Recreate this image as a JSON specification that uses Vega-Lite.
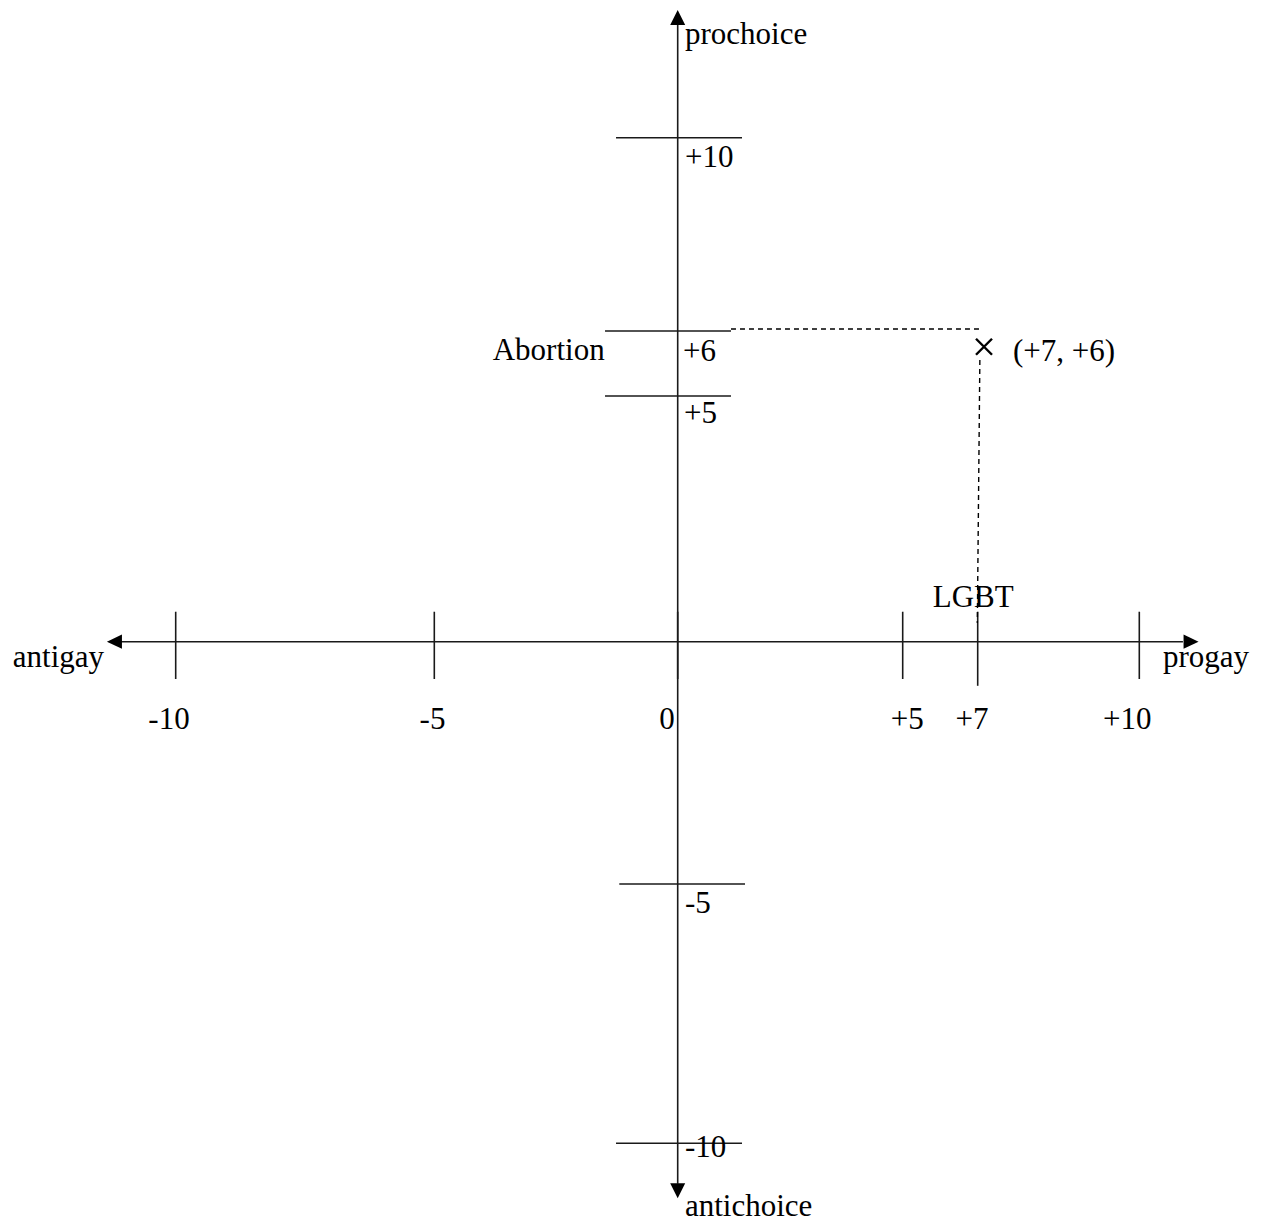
{
  "$schema": "https://vega.github.io/schema/vega-lite/v6.json",
  "width": 1261,
  "height": 1222,
  "autosize": {"type": "fit", "contains": "padding"},
  "padding": 0,
  "background": "white",
  "config": {"view": {"stroke": null}},
  "datasets": {
    "segments": [
      {"x": -11.06, "y": 0, "x2": 10.81, "y2": 0},
      {"x": 0, "y": 12.33, "x2": 0, "y2": -10.78},
      {"x": -10, "y": 0.61, "x2": -10, "y2": -0.77},
      {"x": -5, "y": 0.61, "x2": -5, "y2": -0.77},
      {"x": 0, "y": 0.61, "x2": 0, "y2": -0.77},
      {"x": 5, "y": 0.61, "x2": 5, "y2": -0.77},
      {"x": 7, "y": 0.61, "x2": 7, "y2": -0.91},
      {"x": 10, "y": 0.61, "x2": 10, "y2": -0.77},
      {"x": -1.267, "y": 10, "x2": 1.429, "y2": 10},
      {"x": -1.493, "y": 6, "x2": 1.184, "y2": 6},
      {"x": -1.493, "y": 5, "x2": 1.184, "y2": 5},
      {"x": -1.2, "y": -5, "x2": 1.496, "y2": -5},
      {"x": -1.267, "y": -10, "x2": 1.429, "y2": -10}
    ],
    "dashed": [
      {"x": 1.184, "y": 6.04, "x2": 7.098, "y2": 6.04},
      {"x": 7.04, "y": 5.554, "x2": 6.99, "y2": 0.38}
    ],
    "arrows": [
      {"x": 11.1, "y": 0, "dir": "right"},
      {"x": -11.33, "y": 0, "dir": "left"},
      {"x": 0, "y": 12.64, "dir": "up"},
      {"x": 0, "y": -11.06, "dir": "down"}
    ],
    "point": [{"x": 7.117, "y": 5.758}],
    "labels": [
      {"x": 0.162, "y": 11.93, "text": "prochoice"},
      {"x": 0.162, "y": 9.4, "text": "+10"},
      {"x": 0.118, "y": 5.543, "text": "+6"},
      {"x": 0.14, "y": 4.451, "text": "+5"},
      {"x": 0.162, "y": -5.553, "text": "-5"},
      {"x": 0.162, "y": -10.258, "text": "-10"},
      {"x": 0.162, "y": -11.4, "text": "antichoice"},
      {"x": -3.8, "y": 5.554, "text": "Abortion"},
      {"x": 5.8, "y": 0.712, "text": "LGBT"},
      {"x": 7.655, "y": 5.543, "text": "(+7, +6)"},
      {"x": -13.15, "y": -0.522, "text": "antigay"},
      {"x": 10.44, "y": -0.516, "text": "progay"}
    ],
    "ticklabels": [
      {"x": -10.13, "y": -1.808, "text": "-10"},
      {"x": -5.035, "y": -1.808, "text": "-5"},
      {"x": -0.22, "y": -1.808, "text": "0"},
      {"x": 5.123, "y": -1.808, "text": "+5"},
      {"x": 6.848, "y": -1.808, "text": "+7"},
      {"x": 9.777, "y": -1.808, "text": "+10"}
    ]
  },
  "encoding": {
    "x": {
      "field": "x",
      "type": "quantitative",
      "axis": null,
      "scale": {
        "type": "linear",
        "domain": [-10, -5, 0, 5, 7, 10],
        "range": [175.7, 434.3, 677.7, 902.7, 977.7, 1139.3],
        "zero": false,
        "nice": false
      }
    },
    "y": {
      "field": "y",
      "type": "quantitative",
      "axis": null,
      "scale": {
        "type": "linear",
        "domain": [-10, -5, 0, 5, 6, 10],
        "range": [1143.3, 884, 641.7, 396, 331, 137.7],
        "zero": false,
        "nice": false
      }
    }
  },
  "layer": [
    {
      "data": {"name": "segments"},
      "mark": {"type": "rule", "stroke": "#1a1a1a", "strokeWidth": 1.6},
      "encoding": {
        "x2": {"field": "x2"},
        "y2": {"field": "y2"}
      }
    },
    {
      "data": {"name": "dashed"},
      "mark": {"type": "rule", "stroke": "#000", "strokeWidth": 1.4, "strokeDash": [5, 4]},
      "encoding": {
        "x2": {"field": "x2"},
        "y2": {"field": "y2"}
      }
    },
    {
      "data": {"name": "arrows"},
      "mark": {"type": "point", "filled": true, "size": 225, "opacity": 1, "color": "#000"},
      "encoding": {
        "shape": {
          "field": "dir",
          "type": "nominal",
          "legend": null,
          "scale": {
            "domain": ["right", "left", "up", "down"],
            "range": ["M0,0L-2,-0.95L-2,0.95Z", "M0,0L2,-0.95L2,0.95Z", "M0,0L-1,2L1,2Z", "M0,0L-1,-2L1,-2Z"]
          }
        }
      }
    },
    {
      "data": {"name": "point"},
      "mark": {"type": "point", "shape": "M-1,-1L1,1M-1,1L1,-1", "size": 256, "filled": false, "stroke": "#000", "strokeWidth": 2.4, "opacity": 1}
    },
    {
      "data": {"name": "labels"},
      "mark": {"type": "text", "font": "Liberation Serif", "fontSize": 31, "align": "left", "baseline": "alphabetic", "color": "#000"},
      "encoding": {"text": {"field": "text"}}
    },
    {
      "data": {"name": "ticklabels"},
      "mark": {"type": "text", "font": "Liberation Serif", "fontSize": 31, "align": "center", "baseline": "alphabetic", "color": "#000"},
      "encoding": {"text": {"field": "text"}}
    }
  ]
}
